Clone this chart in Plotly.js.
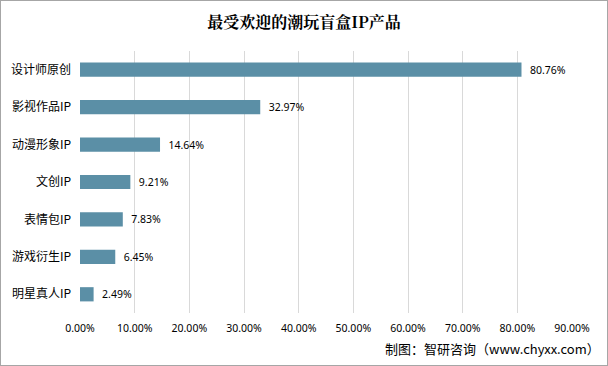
<!DOCTYPE html>
<html><head><meta charset="utf-8">
<script src="https://cdn.plot.ly/plotly-3.0.1.min.js"></script>
<style>
html,body{margin:0;padding:0;background:#fff;}
#c{width:606px;height:364px;border:1px solid #a6a6a6;}
</style></head>
<body><div id="c"></div>
<script>
const categories = ["设计师原创","影视作品IP","动漫形象IP","文创IP","表情包IP","游戏衍生IP","明星真人IP"];
const values = [80.76, 32.97, 14.64, 9.21, 7.83, 6.45, 2.49];
const labels = ["80.76%","32.97%","14.64%","9.21%","7.83%","6.45%","2.49%"];

const trace = {
  type: 'bar', orientation: 'h',
  y: categories, x: values,
  text: labels, texttemplate: '  %{text}', textposition: 'outside', cliponaxis: false,
  textfont: {family: 'Noto Sans, DejaVu Sans, sans-serif', size: 10.5, color: '#000'},
  marker: {color: '#5B8FA6'},
  width: 0.38,
  hoverinfo: 'none'
};
const layout = {
  width: 606, height: 364,
  margin: {l: 79, r: 35, t: 50, b: 52},
  paper_bgcolor: '#fff', plot_bgcolor: '#fff',
  font: {family: 'Noto Sans CJK SC, sans-serif', color: '#000'},
  title: {text: '<b>最受欢迎的潮玩盲盒IP产品</b>', x: 0.5, xanchor: 'center', y: 0.94, yanchor: 'middle',
          font: {family: 'Noto Serif CJK SC, Noto Sans CJK SC, serif', size: 16, color: '#000'}},
  xaxis: {range: [0, 90], dtick: 10, tick0: 0, tickformat: '.2f', ticksuffix: '%',
          showgrid: true, gridcolor: '#d9d9d9', gridwidth: 1, zeroline: false,
          showline: false, ticks: '', ticklen: 0, ticklabelstandoff: 7,
          tickfont: {family: 'Noto Sans, DejaVu Sans, sans-serif', size: 10.5, color: '#000'}},
  yaxis: {autorange: 'reversed', showgrid: false, zeroline: false, showline: false, ticks: '',
          ticklabelstandoff: 8,
          tickfont: {family: 'Noto Sans CJK SC, sans-serif', size: 12, color: '#000'}},
  showlegend: false,
  annotations: [{text: '制图：智研咨询（www.chyxx.com）', xref: 'paper', yref: 'paper', x: 1.06, y: -0.135,
                 xanchor: 'right', yanchor: 'middle', showarrow: false,
                 font: {family: 'Noto Sans CJK SC, sans-serif', size: 13, color: '#000'}}]
};
Plotly.newPlot('c', [trace], layout, {displayModeBar: false, staticPlot: true});
</script></body></html>
